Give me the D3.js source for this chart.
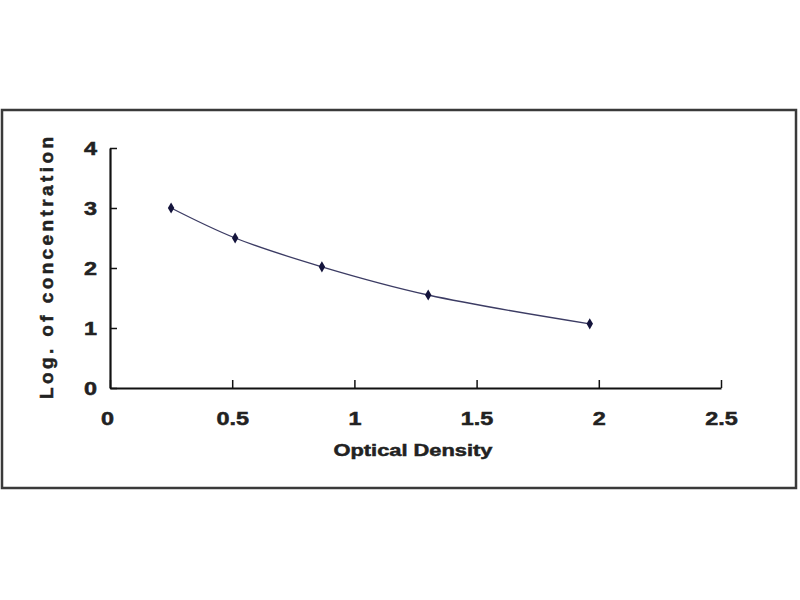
<!DOCTYPE html>
<html>
<head>
<meta charset="utf-8">
<script src="https://cdn.jsdelivr.net/npm/d3@7"></script>
<style>
	body { margin: 0; background: #fff; }
	svg text { font-family: "Liberation Sans", Arial, sans-serif; font-weight: bold; fill: #222; stroke: #222; stroke-width: 0.5; }
	.axis path, .axis line { stroke: #111; }
</style>
</head>
<body>
<svg id="chart" width="800" height="600"></svg>
<script>
// standard curve points (optical density vs log of concentration)
var od = [0.25, 0.512, 0.867, 1.302, 1.963];
var logConc = [3.0, 2.5, 2.02, 1.55, 1.07];
var xTicks = [0, 0.5, 1, 1.5, 2, 2.5];
var yTicks = [0, 1, 2, 3, 4];
var xTitle = "Optical Density",
	yTitle = "Log. of concentration";

var svg = d3.select("#chart");

var x0 = 110, x1 = 721,
	y0 = 388, y1 = 148,
	stretch = 1.3;

var x = d3.scaleLinear().domain([0, 2.5]).range([x0, x1]);
var y = d3.scaleLinear().domain([0, 4]).range([y0, y1]);

// outer frame
svg.append("rect")
	.attr("x", 2)
	.attr("y", 110)
	.attr("width", 794)
	.attr("height", 378)
	.attr("fill", "none")
	.attr("stroke", "#3a3a3a")
	.attr("stroke-width", 2.5);

var xAxisG = svg.append("g")
	.attr("class", "axis")
	.attr("transform", "translate(0," + y0 + ")")
	.call(d3.axisBottom(x).tickValues(xTicks).tickSize(-8).tickSizeOuter(0).tickFormat(d3.format("")));

var yAxisG = svg.append("g")
	.attr("class", "axis")
	.attr("transform", "translate(" + x0 + ",0)")
	.call(d3.axisLeft(y).tickValues(yTicks).tickSize(-7).tickSizeOuter(0).tickFormat(d3.format("")));

svg.selectAll(".axis path.domain").attr("stroke-width", 2.2);
svg.selectAll(".axis .tick line").attr("stroke-width", 1.5);

xAxisG.selectAll(".tick text")
	.attr("x", function (d) { return d === 0 ? -3 / stretch : 0; })
	.attr("y", 31)
	.attr("dy", "0.35em")
	.attr("font-size", 18)
	.attr("transform", "scale(" + stretch + ",1)");

yAxisG.selectAll(".tick text")
	.attr("x", -13 / stretch)
	.attr("dy", "0.35em")
	.attr("font-size", 18)
	.attr("transform", "scale(" + stretch + ",1)");

// axis titles
svg.append("text")
	.attr("x", 413)
	.attr("y", 450)
	.attr("dy", "0.35em")
	.attr("text-anchor", "middle")
	.attr("font-size", 17)
	.attr("textLength", 159)
	.attr("lengthAdjust", "spacingAndGlyphs")
	.text(xTitle);

svg.append("text")
	.attr("text-anchor", "middle")
	.attr("font-size", 19)
	.attr("textLength", 262)
	.attr("lengthAdjust", "spacing")
	.attr("transform", "translate(" + 46 + "," + 268 + ") rotate(-90)")
	.attr("dy", "0.35em")
	.text(yTitle);

var pts = od.map(function (d, i) {
	return [x(d), y(logConc[i])];
});

svg.append("path")
	.datum(pts)
	.attr("fill", "none")
	.attr("stroke", "#3c3c64")
	.attr("stroke-width", 1.3)
	.attr("d", d3.line().curve(d3.curveCatmullRom.alpha(0.5)));

svg.selectAll("path.pt")
	.data(pts)
	.enter()
	.append("path")
	.attr("class", "pt")
	.attr("transform", function (d) {
		return "translate(" + d[0] + "," + d[1] + ")";
	})
	.attr("fill", "#14143c")
	.attr("d", d3.symbol().type(d3.symbolDiamond).size(36));
</script>
</body>
</html>
